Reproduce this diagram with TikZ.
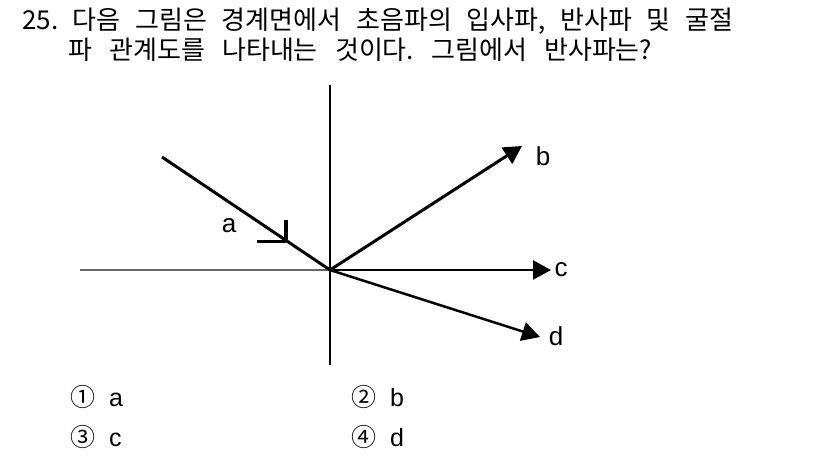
\documentclass[tikz,border=0pt]{standalone}
\usepackage{fontspec}
\setmainfont{Liberation Sans}
\newfontfamily\kr{Noto Sans CJK KR}
\usetikzlibrary{arrows.meta}
\frenchspacing
\begin{document}
\begin{tikzpicture}[x=1pt,y=-1pt,
  titleline/.style={anchor=west,inner sep=0pt,font=\kr\fontsize{26}{26}\selectfont},
  lab/.style={inner sep=0pt,font=\fontsize{26}{26}\selectfont},
  circnum/.style={inner sep=0pt,font=\kr\fontsize{25}{25}\selectfont},
  opt/.style={inner sep=0pt,anchor=base west,font=\fontsize{25}{25}\selectfont},
  ray/.style={line width=3pt},
  arrowtip/.style={-{Triangle[length=18pt,width=19pt]}}]
\useasboundingbox[fill=white] (0,0) rectangle (826,455);
% title
\node[titleline] (t1) at (22,21) {\makebox[711pt][s]{25. 다음 그림은 경계면에서 초음파의 입사파, 반사파 및 굴절}};
\node[titleline] (t2) at (68,50) {\makebox[584pt][s]{파 관계도를 나타내는 것이다. 그림에서 반사파는?}};
% axes
\coordinate (O) at (330,270);
\coordinate (vT) at (330,85);
\coordinate (vB) at (330,365);
\coordinate (hL) at (80,270);
\draw[line width=2pt] (vT) -- (vB);
\draw[line width=2pt,black!60] (hL) -- (O);
% incident a
\coordinate (aS) at (162,157);
\draw[ray] (aS) -- (O);
\coordinate (m1) at (257,241);
\coordinate (m2) at (286,241);
\coordinate (m3) at (286,220);
\draw[line width=3pt] (m1) -- (m2);
\draw[line width=4pt] (m2) -- (m3);
\node[lab] (la) at (229,226) {a};
% b
\coordinate (bE) at (522,146);
\draw[ray,arrowtip] (O) -- (bE);
\node[lab] (lb) at (543,156) {b};
% c
\coordinate (cE) at (551,270);
\draw[line width=2.5pt,arrowtip] (O) -- (cE);
\node[lab] (lc) at (561,270) {c};
% d
\coordinate (dE) at (540,337);
\draw[line width=2.5pt,arrowtip] (O) -- (dE);
\node[lab] (ld) at (556,336) {d};
% options
\node[circnum] (o1) at (83,397) {①};
\node[opt] (o1t) at (109,406) {a};
\node[circnum] (o2) at (364,397) {②};
\node[opt] (o2t) at (390,406) {b};
\node[circnum] (o3) at (83,437) {③};
\node[opt] (o3t) at (109,446) {c};
\node[circnum] (o4) at (364,437) {④};
\node[opt] (o4t) at (390,446) {d};
\end{tikzpicture}
\end{document}
